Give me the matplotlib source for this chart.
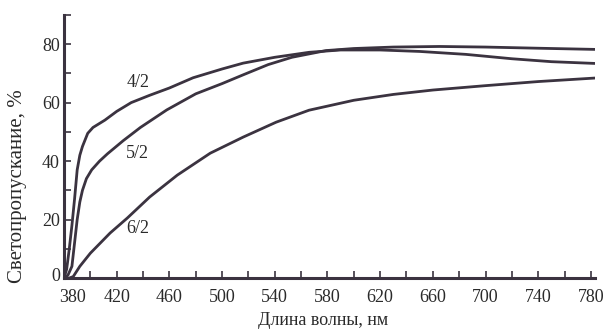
import numpy as np
import matplotlib.pyplot as plt
import matplotlib.transforms as mtransforms
from matplotlib.ticker import MultipleLocator

# wavelength (nm) / transmittance (%)
wl_42 = [380, 382, 384, 386, 388, 390, 392, 394, 398, 402, 411, 420, 431, 445, 460, 478,
         500, 516, 540, 566, 590, 620, 650, 685, 720, 750, 783]
tr_42 = [0, 3, 10, 18, 27, 37, 42, 45, 49.5, 51.5, 54, 57, 60, 62.5, 65, 68.5,
         71.5, 73.5, 75.5, 77.2, 78, 78, 77.5, 76.5, 75, 74, 73.4]

wl_52 = [380, 383, 386, 388, 390, 392, 394, 397, 401, 407, 413, 425, 438, 458, 480,
         500, 516, 535, 553, 579, 600, 630, 665, 700, 740, 783]
tr_52 = [0, 1, 4, 12, 20, 26, 30, 34, 37, 40, 42.5, 47, 51.5, 57.5, 63,
         66.5, 69.5, 73, 75.5, 77.8, 78.5, 79, 79.2, 79, 78.6, 78.2]

wl_62 = [380, 384, 387, 392, 400, 415, 428, 445, 466, 491, 516, 541, 566, 600,
         630, 660, 700, 740, 783]
tr_62 = [0, 0, 0.5, 4, 8.5, 15.4, 20.5, 27.7, 35.2, 42.7, 48.2, 53.3, 57.4, 60.8,
         62.8, 64.3, 65.8, 67.2, 68.4]

curve_labels = ['4/2', '5/2', '6/2']
label_pos = [(436, 67), (436, 42.7), (436, 17)]

x_ticks = list(range(380, 781, 40))

plt.rcParams['font.family'] = ['Liberation Serif', 'DejaVu Serif']

ink = '#3b3340'
txt_col = '#2a2a2a'

fig = plt.figure(figsize=(6.12, 3.31), dpi=100)
ax = fig.add_axes([0.1046, 0.160, 0.8674, 0.795])

for wl, tr in [(wl_42, tr_42), (wl_52, tr_52), (wl_62, tr_62)]:
    ax.plot(wl, tr, color=ink, lw=2.0, solid_capstyle='round', solid_joinstyle='round')

for txt, (x, y) in zip(curve_labels, label_pos):
    ax.text(x, y, txt, fontsize=13, color=txt_col, ha='center', va='center')

ax.set_xlim(380, 783)
ax.set_ylim(0, 90)
ax.set_xticks(x_ticks)
ax.xaxis.set_minor_locator(MultipleLocator(20))
ax.set_yticks([0, 20, 40, 60, 80])
ax.yaxis.set_minor_locator(MultipleLocator(10))

for s in ['top', 'right']:
    ax.spines[s].set_visible(False)
for s in ['left', 'bottom']:
    ax.spines[s].set_linewidth(2.2)
    ax.spines[s].set_color(ink)

ax.tick_params(which='both', direction='in', length=5, width=1.2, color=ink,
               labelsize=13, labelcolor=txt_col)
ax.tick_params(axis='y', pad=3)
ax.tick_params(axis='x', pad=8)

# first x label sits a bit to the right, clear of the "0"
first = ax.get_xticklabels()[0]
first.set_transform(first.get_transform() +
                    mtransforms.ScaledTranslation(8 / 100, 0, fig.dpi_scale_trans))
zero = ax.get_yticklabels()[0]
zero.set_transform(zero.get_transform() +
                   mtransforms.ScaledTranslation(0, 4 / 100, fig.dpi_scale_trans))

ax.set_xlabel('Длина волны, нм', fontsize=13, color=txt_col)
ax.xaxis.set_label_coords(0.488, -0.128)
ax.set_ylabel('Светопропускание, %', fontsize=15, color=txt_col)
ax.yaxis.set_label_coords(-0.07, 0.35)

fig.savefig('out.png', dpi=100)
